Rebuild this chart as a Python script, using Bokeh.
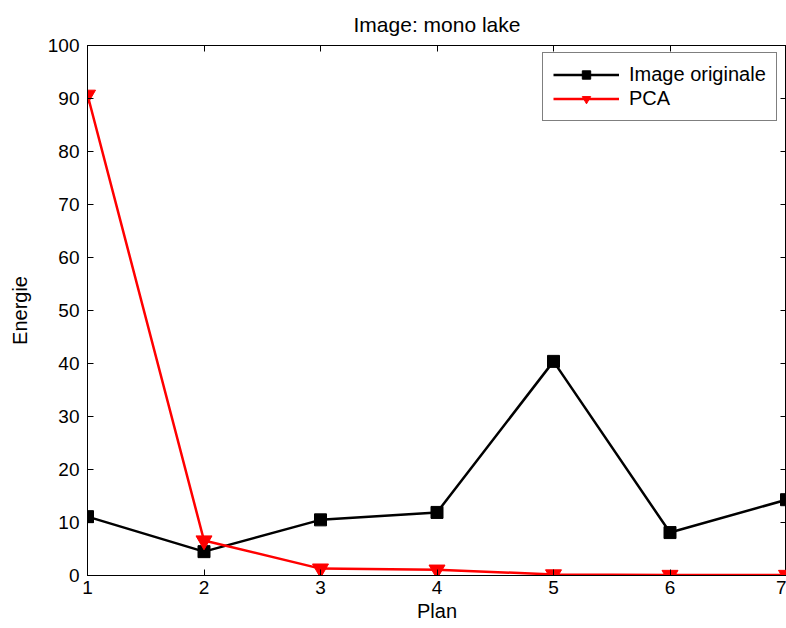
from bokeh.plotting import figure
from bokeh.models import LinearAxis, FixedTicker, Legend, LegendItem, Range1d, CustomJSTickFormatter
from bokeh.embed import file_html
from bokeh.resources import INLINE

plans = [1, 2, 3, 4, 5, 6, 7]
energie_originale = [11.1, 4.5, 10.5, 11.9, 40.4, 8.1, 14.3]
energie_pca = [90.7, 6.6, 1.3, 1.1, 0.2, 0.1, 0.1]
x_ticks = [1, 2, 3, 4, 5, 6, 7]
y_ticks = [0, 10, 20, 30, 40, 50, 60, 70, 80, 90, 100]
title_text = "Image: mono lake"
x_label = "Plan"
y_label = "Energie"
series_names = ["Image originale", "PCA"]

FONT = "Liberation Sans"
FS = "19px"

p = figure(width=786, height=628, output_backend="svg", toolbar_location=None,
           x_range=Range1d(1, 7), y_range=Range1d(0, 100),
           min_border_left=87, min_border_right=0, min_border_top=45, min_border_bottom=53,
           background_fill_color="white", border_fill_color="white")

p.title.text = title_text
p.title.text_font = FONT
p.title.text_font_size = "21px"
p.title.text_font_style = "normal"
p.title.text_color = "black"
p.title.text_line_height = 1.0
p.title.align = "center"
p.title.standoff = 19

p.xgrid.visible = False
p.ygrid.visible = False
p.outline_line_color = "black"
p.outline_line_width = 1

def style_axis(ax, ticks, show_labels):
    ax.ticker = FixedTicker(ticks=ticks)
    ax.major_tick_in = 6
    ax.major_tick_out = 0
    ax.minor_tick_line_color = None
    ax.axis_line_color = "black"
    ax.major_tick_line_color = "black"
    ax.major_label_text_font = FONT
    ax.major_label_text_color = "black"
    ax.axis_label_text_font = FONT
    ax.axis_label_text_font_size = "20px"
    ax.axis_label_text_font_style = "normal"
    ax.axis_label_text_color = "black"
    if show_labels:
        ax.major_label_text_font_size = FS
        ax.major_label_standoff = 8
    else:
        ax.major_label_text_font_size = "1px"
        ax.formatter = CustomJSTickFormatter(code="return ''")
        ax.major_label_standoff = 0

xa = p.xaxis[0]
ya = p.yaxis[0]
style_axis(xa, x_ticks, True)
style_axis(ya, y_ticks, True)
xa.axis_label = x_label
ya.axis_label = y_label
xa.major_label_standoff = 5
xa.axis_label_standoff = 3
ya.axis_label_standoff = 14

top = LinearAxis()
style_axis(top, x_ticks, False)
p.add_layout(top, "above")
right = LinearAxis()
style_axis(right, y_ticks, False)
p.add_layout(right, "right")

l1 = p.line(plans, energie_originale, line_color="black", line_width=2.5)
s1 = p.scatter(plans, energie_originale, marker="square", size=12,
               fill_color="black", line_color="black")
l2 = p.line(plans, energie_pca, line_color="red", line_width=2.5)
s2 = p.scatter(plans, energie_pca, marker="inverted_triangle", size=16,
               fill_color="red", line_color="red")

legend = Legend(items=[LegendItem(label=series_names[0], renderers=[l1, s1]),
                       LegendItem(label=series_names[1], renderers=[l2, s2])],
                location=(455, 454))
legend.label_text_font = FONT
legend.label_text_font_size = "20px"
legend.label_text_color = "black"
legend.glyph_width = 66
legend.glyph_height = 21
legend.label_height = 21
legend.label_standoff = 10
legend.padding = 10
legend.spacing = 1
legend.margin = 0
legend.border_line_color = "black"
legend.border_line_width = 1
legend.background_fill_color = "white"
legend.background_fill_alpha = 1
p.add_layout(legend, "center")

open("out.html", "w").write(file_html(p, INLINE))
